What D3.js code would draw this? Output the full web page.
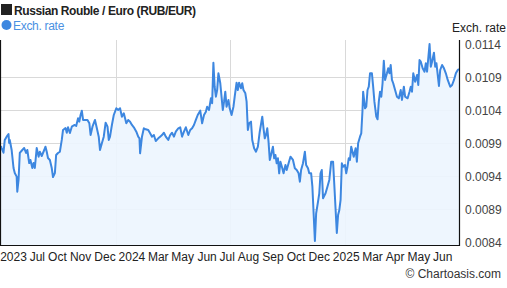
<!DOCTYPE html>
<html>
<head>
<meta charset="utf-8">
<script src="https://cdn.jsdelivr.net/npm/d3@7"></script>
<style>
	body { margin: 0; background: #fff; }
	svg text { font-family: "Liberation Sans", Arial, sans-serif; }
</style>
</head>
<body>
<div id="rate-chart"></div>
<script>
// RUB/EUR
const dates = [
	"2023-06-20","2023-06-21","2023-06-24","2023-06-26","2023-06-29","2023-07-02","2023-07-03","2023-07-04","2023-07-07","2023-07-10",
	"2023-07-12","2023-07-15","2023-07-16","2023-07-18","2023-07-20","2023-07-24","2023-07-27","2023-07-30","2023-08-01","2023-08-04",
	"2023-08-06","2023-08-09","2023-08-11","2023-08-13","2023-08-16","2023-08-19","2023-08-21","2023-08-24","2023-08-28","2023-08-30",
	"2023-09-01","2023-09-03","2023-09-06","2023-09-09","2023-09-11","2023-09-14","2023-09-16","2023-09-19","2023-09-22","2023-09-25",
	"2023-09-27","2023-10-01","2023-10-03","2023-10-05","2023-10-08","2023-10-11","2023-10-15","2023-10-18","2023-10-21","2023-10-23",
	"2023-10-25","2023-10-27","2023-10-29","2023-11-02","2023-11-05","2023-11-08","2023-11-10","2023-11-13","2023-11-17","2023-11-20",
	"2023-11-23","2023-11-25","2023-11-28","2023-12-01","2023-12-04","2023-12-07","2023-12-09","2023-12-11","2023-12-14","2023-12-17",
	"2023-12-21","2023-12-24","2023-12-27","2023-12-30","2024-01-02","2024-01-06","2024-01-09","2024-01-12","2024-01-15","2024-01-18",
	"2024-01-22","2024-01-25","2024-01-27","2024-01-28","2024-01-31","2024-02-03","2024-02-06","2024-02-10","2024-02-13","2024-02-16",
	"2024-02-19","2024-02-22","2024-02-26","2024-02-29","2024-03-03","2024-03-06","2024-03-09","2024-03-13","2024-03-16","2024-03-19",
	"2024-03-22","2024-03-25","2024-03-29","2024-04-01","2024-04-04","2024-04-07","2024-04-10","2024-04-14","2024-04-17","2024-04-20",
	"2024-04-23","2024-04-26","2024-04-29","2024-05-03","2024-05-06","2024-05-09","2024-05-12","2024-05-14","2024-05-17","2024-05-20",
	"2024-05-22","2024-05-24","2024-05-26","2024-05-28","2024-05-30","2024-06-01","2024-06-04","2024-06-06","2024-06-08","2024-06-10",
	"2024-06-12","2024-06-14","2024-06-17","2024-06-19","2024-06-22","2024-06-25","2024-06-27","2024-06-30","2024-07-02","2024-07-04",
	"2024-07-07","2024-07-09","2024-07-11","2024-07-14","2024-07-16","2024-07-18","2024-07-20","2024-07-23","2024-07-25","2024-07-28",
	"2024-07-31","2024-08-03","2024-08-06","2024-08-10","2024-08-12","2024-08-14","2024-08-16","2024-08-18","2024-08-20","2024-08-22",
	"2024-08-24","2024-08-27","2024-08-29","2024-08-31","2024-09-02","2024-09-04","2024-09-06","2024-09-08","2024-09-11","2024-09-13",
	"2024-09-16","2024-09-18","2024-09-21","2024-09-24","2024-09-28","2024-10-01","2024-10-04","2024-10-07","2024-10-09","2024-10-11",
	"2024-10-14","2024-10-17","2024-10-19","2024-10-22","2024-10-24","2024-10-27","2024-10-29","2024-11-02","2024-11-04","2024-11-07",
	"2024-11-09","2024-11-11","2024-11-13","2024-11-15","2024-11-19","2024-11-22","2024-11-25","2024-11-28","2024-12-01","2024-12-03",
	"2024-12-07","2024-12-09","2024-12-11","2024-12-13","2024-12-15","2024-12-17","2024-12-20","2024-12-22","2024-12-24","2024-12-26",
	"2024-12-28","2024-12-30","2025-01-01","2025-01-03","2025-01-06","2025-01-08","2025-01-10","2025-01-13","2025-01-15","2025-01-17",
	"2025-01-18","2025-01-21","2025-01-23","2025-01-25","2025-01-27","2025-01-29","2025-02-01","2025-02-03","2025-02-05","2025-02-08",
	"2025-02-10","2025-02-12","2025-02-14","2025-02-16","2025-02-18","2025-02-20","2025-02-22","2025-02-25","2025-02-27","2025-03-01",
	"2025-03-03","2025-03-05","2025-03-07","2025-03-10","2025-03-13","2025-03-16","2025-03-19","2025-03-21","2025-03-24","2025-03-26",
	"2025-03-30","2025-04-02","2025-04-04","2025-04-06","2025-04-08","2025-04-11","2025-04-14","2025-04-16","2025-04-18","2025-04-20",
	"2025-04-23","2025-04-26","2025-04-28","2025-04-30","2025-05-04","2025-05-06","2025-05-08","2025-05-11","2025-05-13","2025-05-15",
	"2025-05-19","2025-05-21","2025-05-24","2025-05-27","2025-05-30","2025-06-02","2025-06-06","2025-06-09","2025-06-12","2025-06-15",
	"2025-06-18","2025-06-20"
];

const rates = [
	0.009855,0.009824,0.009753,0.009946,0.009996,0.010036,0.009900,0.009946,0.009794,0.009521,
	0.009446,0.009390,0.009162,0.009340,0.009749,0.009794,0.009824,0.009749,0.009794,0.009597,
	0.009643,0.009521,0.009597,0.009521,0.009824,0.009693,0.009768,0.009703,0.009794,0.009844,
	0.009768,0.009673,0.009643,0.009521,0.009385,0.009446,0.009718,0.009749,0.009768,0.009946,
	0.010097,0.010127,0.010056,0.010138,0.010052,0.010147,0.010173,0.010158,0.010274,0.010223,
	0.010324,0.010390,0.010249,0.010249,0.010249,0.010199,0.010021,0.010147,0.010249,0.010123,
	0.009996,0.009794,0.009896,0.009996,0.010208,0.010147,0.009946,0.009996,0.010173,0.010324,
	0.010426,0.010400,0.010426,0.010299,0.010350,0.010199,0.010249,0.010223,0.010173,0.010138,
	0.010071,0.009996,0.009971,0.009744,0.009996,0.010123,0.010108,0.010097,0.010047,0.009996,
	0.010021,0.009930,0.009971,0.009996,0.010021,0.010056,0.009996,0.009946,0.010021,0.010056,
	0.009996,0.010071,0.010123,0.010138,0.009996,0.010071,0.010138,0.010021,0.010097,0.010123,
	0.010173,0.010249,0.010324,0.010390,0.010199,0.010324,0.010374,0.010450,0.010400,0.010577,
	0.010502,0.011117,0.010753,0.010602,0.010703,0.010956,0.010805,0.010602,0.010400,0.010526,
	0.010677,0.010450,0.010552,0.010426,0.010324,0.010450,0.010602,0.010814,0.010703,0.010814,
	0.010729,0.010805,0.010703,0.010653,0.010526,0.010097,0.010199,0.010223,0.009946,0.009820,
	0.009768,0.009844,0.010071,0.010299,0.010123,0.009971,0.010021,0.010123,0.009920,0.009643,
	0.009718,0.009844,0.009668,0.009718,0.009593,0.009668,0.009441,0.009617,0.009517,0.009441,
	0.009567,0.009491,0.009593,0.009693,0.009643,0.009517,0.009491,0.009441,0.009314,0.009491,
	0.009593,0.009768,0.009567,0.009517,0.009441,0.009441,0.009238,0.008415,0.008835,0.009011,
	0.009138,0.009441,0.009491,0.009062,0.009138,0.009238,0.009340,0.009617,0.009617,0.009264,
	0.008537,0.008809,0.008885,0.009037,0.009593,0.009541,0.009567,0.009441,0.009541,0.009668,
	0.009643,0.009844,0.009768,0.009693,0.009820,0.009617,0.009896,0.009996,0.010047,0.010400,
	0.010677,0.010426,0.010450,0.010703,0.010753,0.010956,0.010956,0.010753,0.010526,0.010299,
	0.010259,0.010526,0.010677,0.010602,0.010805,0.011147,0.010855,0.010956,0.011032,0.010956,
	0.011082,0.010855,0.010805,0.010703,0.010602,0.010577,0.010703,0.010552,0.010753,0.010602,
	0.010577,0.010677,0.010753,0.010677,0.010956,0.010829,0.010930,0.010779,0.011158,0.011132,
	0.011032,0.010980,0.011108,0.010980,0.011400,0.011056,0.011132,0.011268,0.011056,0.011108,
	0.010764,0.011006,0.011082,0.011032,0.010956,0.010855,0.010753,0.010779,0.010855,0.010956,
	0.011006,0.011021
];

const yTicks = [0.0084, 0.0089, 0.0094, 0.0099, 0.0104, 0.0109, 0.0114];
const xTickDates = ["2023-07-10","2023-08-17","2023-09-18","2023-10-25","2023-12-03","2024-01-15","2024-02-26","2024-04-05","2024-05-14","2024-06-15",
	"2024-07-19","2024-08-27","2024-10-03","2024-11-09","2024-12-22","2025-02-02","2025-03-10","2025-04-17","2025-05-25"];
const xTickLabels = ["2023","Jul","Oct","Nov","Dec","2024","Mar","May","Jun","Jul","Aug","Sep","Oct","Dec","2025","Mar","Apr","May","Jun"];
const xGridDates = ["2023-12-20","2024-06-20","2024-12-20"];
const dateRange = ["2023-06-20","2025-06-20"];

class RateChart {
	constructor(parentElement) {
		this.parentElement = parentElement;
		this.initVis();
	}

	initVis() {
		let vis = this;
		vis.margin = { top: 44, right: 48, bottom: 46, left: 1 };
		vis.width = 507 - vis.margin.left - vis.margin.right;
		vis.height = 288 - vis.margin.top - vis.margin.bottom;

		vis.root = d3.select("#" + vis.parentElement)
			.append("svg")
			.attr("width", 507)
			.attr("height", 288);
		vis.svg = vis.root.append("g")
			.attr("transform", `translate(${vis.margin.left}, ${vis.margin.top})`);

		const parse = d3.timeParse("%Y-%m-%d");
		vis.data = dates.map((d, i) => ({ date: parse(d), rate: rates[i] }));
		vis.tickDates = xTickDates.map(parse);
		vis.gridDates = xGridDates.map(parse);

		vis.xScale = d3.scaleTime()
			.domain(dateRange.map(parse))
			.range([0, vis.width]);
		vis.yScale = d3.scaleLinear()
			.domain([0.0084, 0.0114])
			.range([vis.height, 0]);

		vis.updateVis();
	}

	updateVis() {
		let vis = this;
		const bottom = vis.height + 3;
		const lineColor = "#3d87e0";

		// grid
		vis.svg.selectAll(".hgrid")
			.data(yTicks.slice(1, -1))
			.enter().append("line")
			.attr("x1", 0).attr("x2", vis.width)
			.attr("y1", d => Math.round(vis.yScale(d)) + 0.5)
			.attr("y2", d => Math.round(vis.yScale(d)) + 0.5)
			.attr("stroke", "#d9d9d9");
		vis.svg.selectAll(".vgrid")
			.data(vis.gridDates)
			.enter().append("line")
			.attr("x1", d => Math.round(vis.xScale(d)) + 0.5)
			.attr("x2", d => Math.round(vis.xScale(d)) + 0.5)
			.attr("y1", -4).attr("y2", bottom)
			.attr("stroke", "#d9d9d9");

		const area = d3.area()
			.x(d => vis.xScale(d.date))
			.y0(bottom)
			.y1(d => vis.yScale(d.rate));
		vis.svg.append("path")
			.datum(vis.data)
			.attr("d", area)
			.attr("fill", "#ecf5fe")
			.attr("fill-opacity", 0.9);

		const line = d3.line()
			.x(d => vis.xScale(d.date))
			.y(d => vis.yScale(d.rate));
		vis.svg.append("path")
			.datum(vis.data)
			.attr("d", line)
			.attr("fill", "none")
			.attr("stroke", lineColor)
			.attr("stroke-width", 2)
			.attr("stroke-linejoin", "round");

		// frame: left edge, bottom, right axis
		vis.svg.append("path")
			.attr("d", `M-0.5,-4V${bottom + 0.5}H${vis.width + 0.5}V-4`)
			.attr("fill", "none")
			.attr("stroke", "#111")
			.attr("stroke-width", 1.2);

		vis.svg.selectAll(".y-label")
			.data(yTicks)
			.enter().append("text")
			.attr("x", vis.width + 6)
			.attr("y", d => vis.yScale(d) + 4.5)
			.attr("font-size", 12)
			.attr("fill", "#444")
			.text(d => d3.format(".4f")(d));

		vis.svg.selectAll(".x-label")
			.data(vis.tickDates)
			.enter().append("text")
			.attr("x", d => vis.xScale(d))
			.attr("y", bottom + 16)
			.attr("text-anchor", "middle")
			.attr("font-size", 12)
			.attr("fill", "#222")
			.text((d, i) => xTickLabels[i]);

		// title, legend, axis name, credit
		vis.root.append("rect")
			.attr("x", 1).attr("y", 4).attr("width", 11).attr("height", 11)
			.attr("fill", "#222");
		vis.root.append("text")
			.attr("x", 14).attr("y", 15)
			.attr("font-size", 12).attr("font-weight", "bold")
			.attr("letter-spacing", -0.4)
			.attr("fill", "#222")
			.text("Russian Rouble / Euro (RUB/EUR)");
		vis.root.append("circle")
			.attr("cx", 6.5).attr("cy", 25).attr("r", 5)
			.attr("fill", lineColor);
		vis.root.append("text")
			.attr("x", 13).attr("y", 29.5)
			.attr("font-size", 12)
			.attr("letter-spacing", -0.3)
			.attr("fill", "#4a90e2")
			.text("Exch. rate");
		vis.root.append("text")
			.attr("x", 506).attr("y", 32)
			.attr("text-anchor", "end")
			.attr("font-size", 12)
			.attr("fill", "#222")
			.text("Exch. rate");
		vis.root.append("text")
			.attr("x", 501).attr("y", 278)
			.attr("text-anchor", "end")
			.attr("font-size", 12)
			.attr("fill", "#333")
			.text("© Chartoasis.com");
	}
}

new RateChart("rate-chart");
</script>
</body>
</html>
